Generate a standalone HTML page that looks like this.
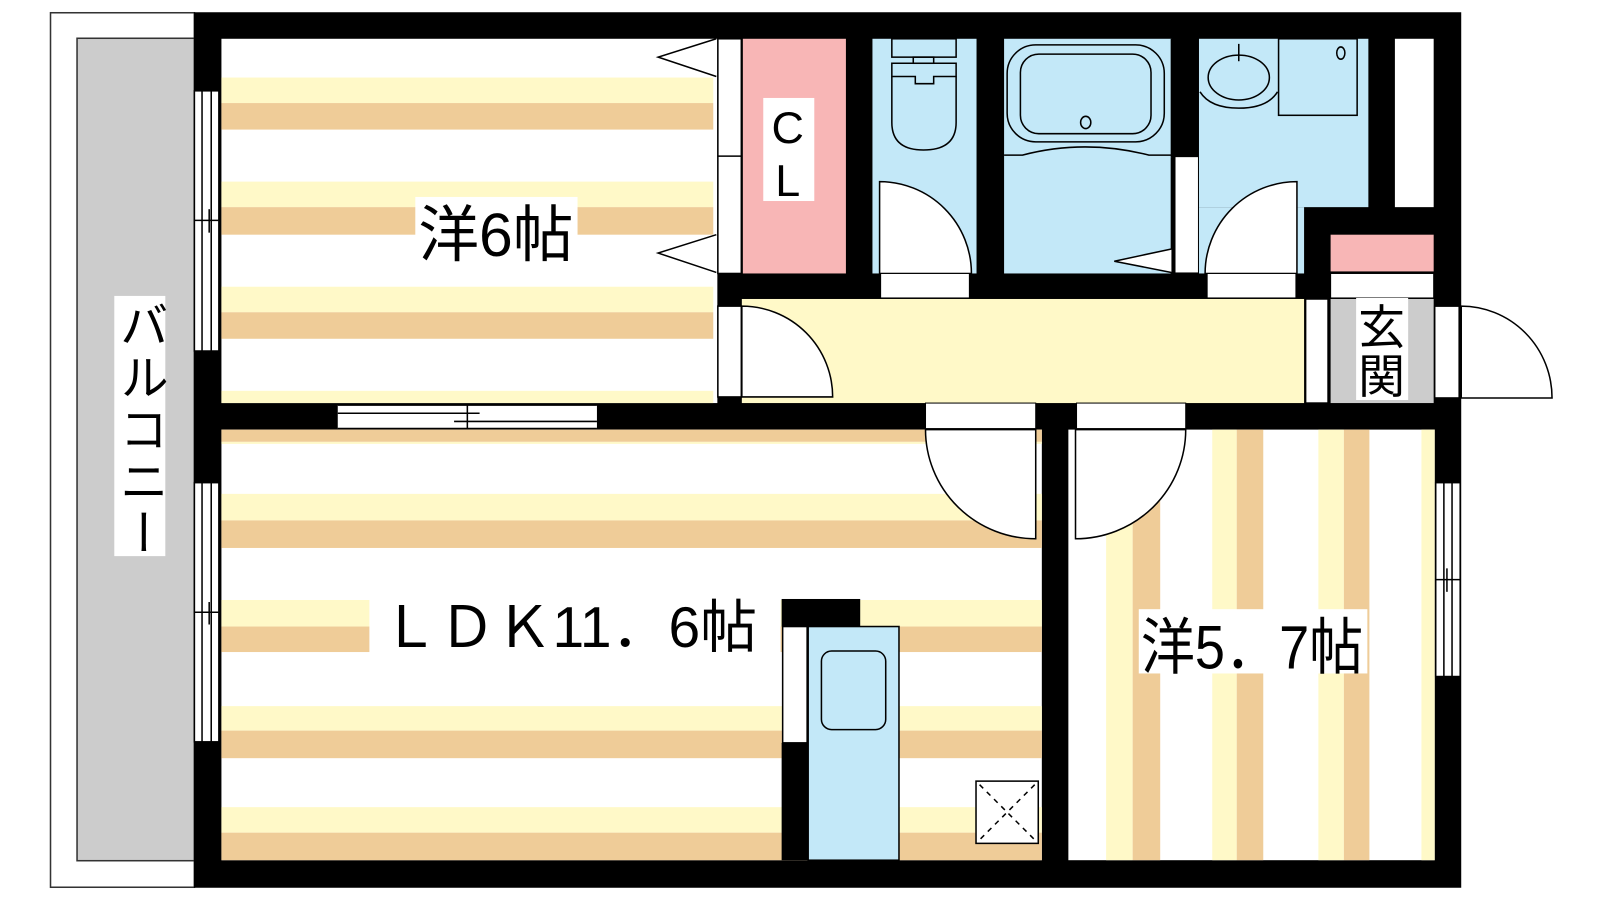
<!DOCTYPE html>
<html><head><meta charset="utf-8"><style>
html,body{margin:0;padding:0;background:#fff;}
svg{display:block;}
text{font-family:"Liberation Sans","Noto Sans CJK JP",sans-serif;fill:#000;}
</style></head><body>
<svg width="1600" height="900" viewBox="0 0 1568 882" xmlns="http://www.w3.org/2000/svg">
<rect width="1568" height="882" fill="#fff"/>
<!-- balcony -->
<rect x="49.5" y="12.5" width="141" height="857" fill="#fff" stroke="#333" stroke-width="1.5"/>
<rect x="75.5" y="37.5" width="115" height="806" fill="#cccccc" stroke="#333" stroke-width="1.5"/>
<rect x="112" y="290" width="50" height="255" fill="#fff"/>
<text x="137" y="294" font-size="48" style="writing-mode:vertical-rl" letter-spacing="3">バルコニー</text>

<!-- outer black -->
<rect x="190" y="12" width="1242" height="858" fill="#000"/>

<!-- Room 1 -->
<rect x="217" y="38" width="486" height="357" fill="#fff"/>
<g>
<rect x="217" y="76" width="482" height="25" fill="#fff9c8"/><rect x="217" y="101" width="482" height="26" fill="#efcc98"/>
<rect x="217" y="178" width="482" height="25" fill="#fff9c8"/><rect x="217" y="203" width="482" height="27" fill="#efcc98"/>
<rect x="217" y="281" width="482" height="25" fill="#fff9c8"/><rect x="217" y="306" width="482" height="26" fill="#efcc98"/>
<rect x="217" y="383" width="482" height="12" fill="#fff9c8"/>
</g>
<!-- closet doors -->
<rect x="703.5" y="38" width="23" height="230" fill="#fff" stroke="#000" stroke-width="1.5"/>
<line x1="703" y1="153" x2="727" y2="153" stroke="#000" stroke-width="1.5"/>
<polyline points="702,38 645,56 702,75" fill="#fff" stroke="#000" stroke-width="1.5"/>
<polyline points="702,230 645,248 702,267" fill="#fff" stroke="#000" stroke-width="1.5"/>
<rect x="728" y="38" width="101" height="230" fill="#f8b6b6"/>
<rect x="748" y="96" width="50" height="101" fill="#fff"/>
<text x="772" y="140" font-size="44" text-anchor="middle">C</text>
<text x="772" y="192" font-size="44" text-anchor="middle">L</text>

<!-- toilet -->
<rect x="855" y="38" width="102" height="230" fill="#c3e8f8"/>
<g fill="none" stroke="#000" stroke-width="1.5">
<rect x="874" y="38" width="63" height="18"/>
<rect x="895" y="56" width="20" height="6"/>
<path d="M874,62 H937 V75 H915 V82 H897 V75 H874 Z"/>
<path d="M874,75 V120 Q874,147 905,147 Q937,147 937,120 V75"/>
</g>
<!-- bath -->
<rect x="984" y="38" width="164" height="230" fill="#c3e8f8"/>
<g fill="none" stroke="#000" stroke-width="1.5">
<rect x="987" y="44" width="154" height="95" rx="28"/>
<rect x="1000" y="53" width="128" height="78" rx="18"/>
<ellipse cx="1064" cy="120" rx="5" ry="6"/>
<path d="M984,152 H1002 Q1063,136 1126,152 H1148"/>
<line x1="1148" y1="38" x2="1148" y2="154"/>
</g>
<!-- wash -->
<rect x="1175" y="38" width="166" height="165" fill="#c3e8f8"/>
<rect x="1175" y="203" width="103" height="65" fill="#c3e8f8"/>
<g fill="none" stroke="#000" stroke-width="1.5">
<ellipse cx="1214" cy="76" rx="30" ry="22"/>
<line x1="1214" y1="43" x2="1214" y2="60"/>
<path d="M1176,90 Q1186,106 1214,106 Q1242,106 1252,90"/>
<rect x="1253" y="38" width="77" height="75"/>
<ellipse cx="1314" cy="52" rx="4" ry="6"/>
</g>
<rect x="1367" y="38" width="38" height="165" fill="#fff"/>
<!-- bath/wash door -->
<rect x="1152" y="154" width="22" height="113" fill="#fff"/>
<line x1="1148" y1="154" x2="1148" y2="268" stroke="#000" stroke-width="1.5"/>
<polyline points="1148,244 1092,256 1148,267" fill="#fff" stroke="#000" stroke-width="1.5"/>
<!-- toilet door -->
<path d="M862,268 V178 A90,90 0 0 1 952,268 Z" fill="#fff" stroke="#000" stroke-width="1.5"/>
<rect x="863" y="268" width="87" height="24" fill="#fff" stroke="#000" stroke-width="1"/>
<!-- wash door -->
<path d="M1271,268 V178 A90,90 0 0 0 1181,268 Z" fill="#fff" stroke="#000" stroke-width="1.5"/>
<rect x="1183" y="268" width="87" height="24" fill="#fff" stroke="#000" stroke-width="1"/>
<!-- shoe cabinet -->
<rect x="1304" y="230" width="101" height="36" fill="#f8b6b6"/>
<rect x="1304" y="268" width="101" height="24" fill="#fff" stroke="#000" stroke-width="1"/>

<!-- hallway -->
<rect x="727" y="293" width="551" height="102" fill="#fff9c8"/>
<path d="M727,389 V300 A89,89 0 0 1 816,389 Z" fill="#fff" stroke="#000" stroke-width="1.5"/>
<rect x="703.5" y="300" width="23" height="89" fill="#fff" stroke="#000" stroke-width="1.5"/>
<!-- entry -->
<rect x="1279.5" y="293" width="22" height="102" fill="#fff" stroke="#000" stroke-width="1.5"/>
<rect x="1304" y="293" width="101" height="102" fill="#cccccc"/>
<rect x="1329" y="292" width="51" height="100" fill="#fff"/>
<text x="1354" y="337" font-size="46" text-anchor="middle">玄</text>
<text x="1354" y="385" font-size="46" text-anchor="middle">関</text>
<rect x="1406" y="300" width="24" height="90" fill="#fff" stroke="#000" stroke-width="1.5"/>
<path d="M1432,390 V300 A89,90 0 0 1 1521,390 Z" fill="#fff" stroke="#000" stroke-width="1.5"/>

<!-- LDK -->
<rect x="217" y="421" width="804" height="422" fill="#fff"/>
<g>
<rect x="217" y="421" width="804" height="12" fill="#efcc98"/><rect x="217" y="433" width="804" height="2" fill="#fff9c8"/>
<rect x="217" y="484" width="804" height="26" fill="#fff9c8"/><rect x="217" y="510" width="804" height="27" fill="#efcc98"/>
<rect x="217" y="588" width="804" height="26" fill="#fff9c8"/><rect x="217" y="614" width="804" height="25" fill="#efcc98"/>
<rect x="217" y="692" width="804" height="24" fill="#fff9c8"/><rect x="217" y="716" width="804" height="27" fill="#efcc98"/>
<rect x="217" y="791" width="804" height="25" fill="#fff9c8"/><rect x="217" y="816" width="804" height="27" fill="#efcc98"/>
</g>
<!-- Room 3 -->
<rect x="1047" y="421" width="359" height="422" fill="#fff"/>
<g>
<rect x="1084" y="421" width="26" height="422" fill="#fff9c8"/><rect x="1110" y="421" width="27" height="422" fill="#efcc98"/>
<rect x="1188" y="421" width="24" height="422" fill="#fff9c8"/><rect x="1212" y="421" width="26" height="422" fill="#efcc98"/>
<rect x="1292" y="421" width="25" height="422" fill="#fff9c8"/><rect x="1317" y="421" width="25" height="422" fill="#efcc98"/>
<rect x="1393" y="421" width="13" height="422" fill="#fff9c8"/>
</g>
<!-- doors to LDK & room3 -->
<rect x="907" y="395" width="108" height="25" fill="#fff" stroke="#000" stroke-width="1"/>
<rect x="1055" y="395" width="107" height="25" fill="#fff" stroke="#000" stroke-width="1"/>
<path d="M1015,421 V528 A108,107 0 0 1 907,421 Z" fill="#fff" stroke="#000" stroke-width="1.5"/>
<path d="M1054,421 V528 A108,107 0 0 0 1162,421 Z" fill="#fff" stroke="#000" stroke-width="1.5"/>

<!-- sliding door -->
<rect x="331" y="397" width="254" height="23" fill="#fff"/>
<g stroke="#000" stroke-width="1.5" fill="none">
<line x1="331" y1="397" x2="585" y2="397"/><line x1="331" y1="420" x2="585" y2="420"/>
<line x1="331" y1="405" x2="470" y2="405"/><line x1="445" y1="413" x2="585" y2="413"/>
<line x1="458" y1="397" x2="458" y2="420"/>
</g>

<!-- windows -->
<g fill="#fff" stroke="#000" stroke-width="1.5">
<rect x="190.5" y="89" width="24" height="255"/>
<rect x="190.5" y="473" width="24" height="254"/>
<rect x="1407" y="473" width="24" height="190"/>
</g>
<g stroke="#000" stroke-width="1.5">
<line x1="198" y1="89" x2="198" y2="344"/><line x1="207" y1="89" x2="207" y2="344"/>
<line x1="190" y1="216" x2="214" y2="216"/><line x1="205" y1="205" x2="205" y2="228"/>
<line x1="198" y1="473" x2="198" y2="727"/><line x1="207" y1="473" x2="207" y2="727"/>
<line x1="190" y1="600" x2="214" y2="600"/><line x1="205" y1="590" x2="205" y2="612"/>
<line x1="1415" y1="473" x2="1415" y2="663"/><line x1="1423" y1="473" x2="1423" y2="663"/>
<line x1="1407" y1="568" x2="1431" y2="568"/><line x1="1418" y1="557" x2="1418" y2="580"/>
</g>

<!-- kitchen -->
<rect x="766" y="587" width="77" height="27" fill="#000"/>
<rect x="767" y="614" width="24" height="114" fill="#fff" stroke="#000" stroke-width="1.5"/>
<rect x="766" y="728" width="26" height="115" fill="#000"/>
<rect x="792" y="614" width="89" height="229" fill="#c3e8f8" stroke="#000" stroke-width="1.5"/>
<rect x="805" y="638" width="63" height="77" rx="10" fill="#c3e8f8" stroke="#000" stroke-width="1.5"/>
<!-- vent -->
<rect x="956.5" y="765.5" width="61" height="61" fill="#fff" stroke="#000" stroke-width="1.5"/>
<g stroke="#000" stroke-width="1.5" stroke-dasharray="5,5">
<line x1="960" y1="769" x2="1014" y2="823"/><line x1="1014" y1="769" x2="960" y2="823"/>
</g>

<!-- labels -->
<rect x="407" y="193" width="159" height="62" fill="#fff"/>
<text x="410" y="251" font-size="60" textLength="152" lengthAdjust="spacingAndGlyphs">洋6帖</text>
<rect x="362" y="588" width="403" height="52" fill="#fff"/>
<text x="374" y="634" font-size="56" textLength="368" lengthAdjust="spacingAndGlyphs">ＬＤＫ11．6帖</text>
<rect x="1116" y="597" width="224" height="63" fill="#fff"/>
<text x="1118" y="655" font-size="60" textLength="218" lengthAdjust="spacingAndGlyphs">洋5．7帖</text>
</svg>
</body></html>
